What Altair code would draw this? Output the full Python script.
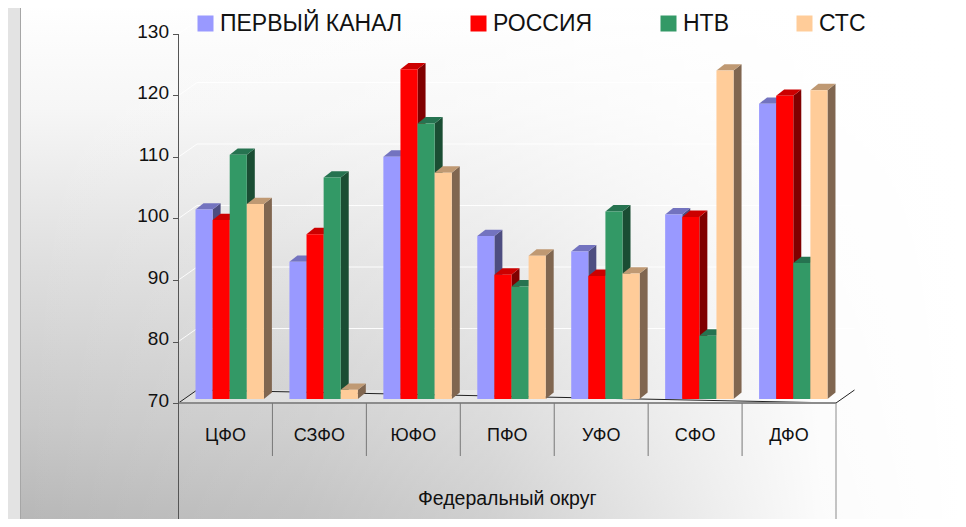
import altair as alt
import pandas as pd

districts = ["ЦФО", "СЗФО", "ЮФО", "ПФО", "УФО", "СФО", "ДФО"]
series = ["ПЕРВЫЙ КАНАЛ", "РОССИЯ", "НТВ", "СТС"]
perviy = [100.8, 92.3, 109.4, 96.5, 94.0, 100.0, 118.0]
rossiya = [99.1, 96.8, 123.6, 90.2, 90.0, 99.6, 119.3]
ntv = [109.7, 106.0, 114.8, 88.3, 100.5, 80.3, 92.1]
sts = [101.7, 71.5, 106.8, 93.3, 90.4, 123.4, 120.2]
ticks = [70, 80, 90, 100, 110, 120, 130]
axis_title = "Федеральный округ"
front_colors = ["#9999ff", "#ff0000", "#339966", "#ffcc99"]
top_colors = ["#7373bf", "#cc0000", "#267350", "#bf9973"]
side_colors = ["#4d4d80", "#800000", "#1a4d33", "#806650"]

W, H = 950, 511
BAND = 93.93
PX = 6.15
X0 = 170.5
Y70 = 395
FONT = "Liberation Sans"

x_scale = alt.Scale(domain=[-X0 / BAND, (W - X0) / BAND], range=[0, W], nice=False, zero=False)
y_scale = alt.Scale(domain=[70 - (H - Y70) / PX, 70 + Y70 / PX], range=[H, 0], nice=False, zero=False)

y_axis = alt.Axis(
    values=ticks, offset=-X0, domain=False, grid=False, title=None, orient="left",
    tickSize=6, tickColor="#555555", tickWidth=1,
    labelFont=FONT, labelFontSize=19, labelColor="#111111", labelPadding=4,
    labelBaseline="middle", labelOffset=-3, zindex=1,
)


def X(f="x"):
    return alt.X(f"{f}:Q", scale=x_scale, axis=None)


def Y(f="y"):
    return alt.Y(f"{f}:Q", scale=y_scale, axis=y_axis, stack=None)


BAR_W = 17.1 / BAND
BAR_L = 17.0 / BAND
DX = 8.0 / BAND
DY = 6.4 / PX
BASE = 70 + 4 / PX
LIFT = BASE - 70
WALL_X = 18.5 / BAND
WALL_Y = 13.0 / PX

layers = []

# Panel: vertical shading, then a white horizontal fade over it
panel_v = alt.Chart(pd.DataFrame({"a": [0]})).mark_rect(
    stroke="#a6a6a6",
    strokeWidth=1,
    color=alt.LinearGradient(
        gradient="linear", x1=0, y1=0, x2=0, y2=1,
        stops=[
            alt.GradientStop(offset=0, color="#ffffff"),
            alt.GradientStop(offset=0.2, color="#f6f6f6"),
            alt.GradientStop(offset=0.5, color="#dedede"),
            alt.GradientStop(offset=0.8, color="#c8c8c8"),
            alt.GradientStop(offset=1, color="#b5b5b5"),
        ],
    ),
).encode(x=alt.value(12.5), x2=alt.value(954), y=alt.value(-4), y2=alt.value(H + 12))
panel_h = alt.Chart(pd.DataFrame({"a": [0]})).mark_rect(
    color=alt.LinearGradient(
        gradient="linear", x1=0, y1=0, x2=1, y2=0,
        stops=[
            alt.GradientStop(offset=0, color="rgba(255,255,255,0)"),
            alt.GradientStop(offset=0.3, color="rgba(255,255,255,0.15)"),
            alt.GradientStop(offset=0.5, color="rgba(255,255,255,0.35)"),
            alt.GradientStop(offset=0.85, color="rgba(255,255,255,0.95)"),
            alt.GradientStop(offset=1, color="rgba(255,255,255,1)"),
        ],
    ),
).encode(x=alt.value(13), x2=alt.value(953.5), y=alt.value(-4), y2=alt.value(H + 12))
layers += [panel_v, panel_h]

# Floor
floor_df = pd.DataFrame([
    {"x": 0, "y": 70, "y2": 70},
    {"x": WALL_X, "y": 70 + WALL_Y, "y2": 70},
    {"x": 7, "y": 70 + WALL_Y, "y2": 70},
    {"x": 7 + WALL_X, "y": 70 + WALL_Y, "y2": 70 + WALL_Y},
])
layers.append(alt.Chart(floor_df).mark_area(color="#ffffff", opacity=0.3).encode(x=X(), y=Y(), y2="y2:Q"))

# Wall gridlines
grid_rows = []
for t in ticks[1:]:
    grid_rows += [
        {"t": t, "x": 0, "y": t},
        {"t": t, "x": WALL_X, "y": t + WALL_Y},
        {"t": t, "x": 7 + WALL_X, "y": t + WALL_Y},
    ]
layers.append(
    alt.Chart(pd.DataFrame(grid_rows)).mark_line(color="#ffffff", strokeWidth=1, opacity=0.9)
    .encode(x=X(), y=Y(), detail="t:N")
)

# Floor outline behind the bars
outline = pd.DataFrame([
    {"k": "a", "x": 0, "y": 70},
    {"k": "a", "x": WALL_X, "y": 70 + WALL_Y},
    {"k": "a", "x": 7 + WALL_X, "y": 70 + WALL_Y},
    {"k": "a", "x": 7, "y": 70},
])
layers.append(alt.Chart(outline).mark_line(color="#222222", strokeWidth=1).encode(x=X(), y=Y(), detail="k:N"))

# 3D bars
color_enc = alt.Color(
    "series:N",
    scale=alt.Scale(domain=series, range=front_colors),
    legend=alt.Legend(
        orient="none", legendX=186, legendY=4, direction="horizontal", columns=4, title=None,
        symbolType="square", symbolSize=256, symbolStrokeWidth=0, symbolOpacity=1,
        labelFont=FONT, labelFontSize=23, labelColor="#111111", labelOffset=3,
        columnPadding=64, gridAlign="none", labelLimit=300,
    ),
)
for si, (name, vals) in enumerate(zip(series, [perviy, rossiya, ntv, sts])):
    fronts, sides, tops = [], [], []
    for i, v in enumerate(vals):
        l = i + BAR_L + si * BAR_W
        r = l + BAR_W
        t = v + LIFT
        fronts.append({"series": name, "x": l, "x2": r, "y": t, "y2": BASE})
        sides += [
            {"g": i, "x": r, "y": t, "y2": BASE},
            {"g": i, "x": r + DX, "y": t + DY, "y2": BASE + DY},
        ]
        tops += [
            {"g": i, "x": l, "y": t, "y2": t},
            {"g": i, "x": l + DX, "y": t + DY, "y2": t},
            {"g": i, "x": r, "y": t + DY, "y2": t},
            {"g": i, "x": r + DX, "y": t + DY, "y2": t + DY},
        ]
    layers.append(alt.Chart(pd.DataFrame(sides)).mark_area(color=side_colors[si]).encode(x=X(), y=Y(), y2="y2:Q", detail="g:N"))
    layers.append(alt.Chart(pd.DataFrame(tops)).mark_area(color=top_colors[si]).encode(x=X(), y=Y(), y2="y2:Q", detail="g:N"))
    layers.append(
        alt.Chart(pd.DataFrame(fronts)).mark_rect().encode(x=X(), x2="x2:Q", y=Y(), y2="y2:Q", color=color_enc)
    )

# Table-like axis below the floor
front_line = pd.DataFrame({"x": [0], "x2": [7], "y": [70]})
layers.append(alt.Chart(front_line).mark_rule(color="#8c8c8c", strokeWidth=2).encode(x=X(), x2="x2:Q", y=Y()))

BOTTOM = 70 - 116 / PX
SEP = 70 - 53 / PX
rules = pd.DataFrame(
    [{"x": 0, "y": 130, "y2": BOTTOM, "c": "#555555"}, {"x": 7, "y": 70, "y2": BOTTOM, "c": "#8c8c8c"}]
    + [{"x": k, "y": 70, "y2": SEP, "c": "#777777"} for k in range(1, 7)]
)
layers.append(alt.Chart(rules).mark_rule(strokeWidth=1).encode(x=X(), y=Y(), y2="y2:Q", color=alt.Color("c:N", scale=None)))

cat_df = pd.DataFrame({"label": districts, "x": [i + 0.5 for i in range(7)], "y": [70 - 33 / PX] * 7})
layers.append(
    alt.Chart(cat_df).mark_text(font=FONT, fontSize=18, color="#111111", baseline="middle")
    .encode(x=X(), y=Y(), text="label:N")
)
title_df = pd.DataFrame({"label": [axis_title], "x": [3.5], "y": [70 - 96 / PX]})
layers.append(
    alt.Chart(title_df).mark_text(font=FONT, fontSize=19.5, color="#111111", baseline="middle")
    .encode(x=X(), y=Y(), text="label:N")
)

chart = alt.layer(*layers).properties(
    width=W, height=H, padding=0, background="#e3e3e3",
    autosize=alt.AutoSizeParams(type="none"),
).configure_view(stroke=None, clip=False)

chart.save("out.html", embed_options={"renderer": "svg", "actions": False})
